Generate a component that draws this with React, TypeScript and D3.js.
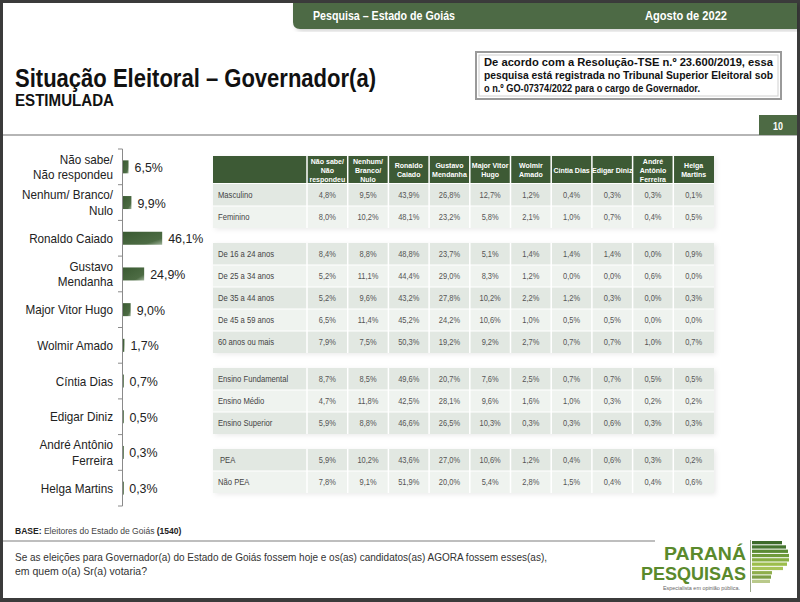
import React from "react";
import * as d3 from "d3";

// ---------- DATA ----------
const candidates = [
  "Não sabe/ Não respondeu",
  "Nenhum/ Branco/ Nulo",
  "Ronaldo Caiado",
  "Gustavo Mendanha",
  "Major Vitor Hugo",
  "Wolmir Amado",
  "Cíntia Dias",
  "Edigar Diniz",
  "André Antônio Ferreira",
  "Helga Martins",
];
const candidateLabelLines = [
  ["Não sabe/", "Não respondeu"],
  ["Nenhum/ Branco/", "Nulo"],
  ["Ronaldo Caiado"],
  ["Gustavo", "Mendanha"],
  ["Major Vitor Hugo"],
  ["Wolmir Amado"],
  ["Cíntia Dias"],
  ["Edigar Diniz"],
  ["André Antônio", "Ferreira"],
  ["Helga Martins"],
];
const totals = [6.5, 9.9, 46.1, 24.9, 9.0, 1.7, 0.7, 0.5, 0.3, 0.3];

const columnHeaderLines = [
  ["Não sabe/", "Não", "respondeu"],
  ["Nenhum/", "Branco/", "Nulo"],
  ["Ronaldo", "Caiado"],
  ["Gustavo", "Mendanha"],
  ["Major Vitor", "Hugo"],
  ["Wolmir", "Amado"],
  ["Cíntia Dias"],
  ["Edigar Diniz"],
  ["André", "Antônio", "Ferreira"],
  ["Helga", "Martins"],
];

const sexLabels = ["Masculino", "Feminino"];
const sexValues = [
  [4.8, 9.5, 43.9, 26.8, 12.7, 1.2, 0.4, 0.3, 0.3, 0.1],
  [8.0, 10.2, 48.1, 23.2, 5.8, 2.1, 1.0, 0.7, 0.4, 0.5],
];
const ageLabels = ["De 16 a 24 anos", "De 25 a 34 anos", "De 35 a 44 anos", "De 45 a 59 anos", "60 anos ou mais"];
const ageValues = [
  [8.4, 8.8, 48.8, 23.7, 5.1, 1.4, 1.4, 1.4, 0.0, 0.9],
  [5.2, 11.1, 44.4, 29.0, 8.3, 1.2, 0.0, 0.0, 0.6, 0.0],
  [5.2, 9.6, 43.2, 27.8, 10.2, 2.2, 1.2, 0.3, 0.0, 0.3],
  [6.5, 11.4, 45.2, 24.2, 10.6, 1.0, 0.5, 0.5, 0.0, 0.0],
  [7.9, 7.5, 50.3, 19.2, 9.2, 2.7, 0.7, 0.7, 1.0, 0.7],
];
const eduLabels = ["Ensino Fundamental", "Ensino Médio", "Ensino Superior"];
const eduValues = [
  [8.7, 8.5, 49.6, 20.7, 7.6, 2.5, 0.7, 0.7, 0.5, 0.5],
  [4.7, 11.8, 42.5, 28.1, 9.6, 1.6, 1.0, 0.3, 0.2, 0.2],
  [5.9, 8.8, 46.6, 26.5, 10.3, 0.3, 0.3, 0.6, 0.3, 0.3],
];
const peaLabels = ["PEA", "Não PEA"];
const peaValues = [
  [5.9, 10.2, 43.6, 27.0, 10.6, 1.2, 0.4, 0.6, 0.3, 0.2],
  [7.8, 9.1, 51.9, 20.0, 5.4, 2.8, 1.5, 0.4, 0.4, 0.6],
];

const headerLeft = "Pesquisa – Estado de Goiás";
const headerRight = "Agosto de 2022";
const titleText = "Situação Eleitoral – Governador(a)";
const subtitleText = "ESTIMULADA";
const noteLines = [
  "De acordo com a Resolução-TSE n.º 23.600/2019, essa",
  "pesquisa está registrada no Tribunal Superior Eleitoral sob",
  "o n.º GO-07374/2022 para o cargo de Governador.",
];
const pageNumber = "10";
const questionLines = [
  "Se as eleições para Governador(a) do Estado de Goiás fossem hoje e os(as) candidatos(as) AGORA fossem esses(as),",
  "em quem o(a) Sr(a) votaria?",
];

// ---------- LAYOUT ----------
const FONT = "'Liberation Sans', Arial, Helvetica, sans-serif";
const GREEN = "#4d6a44";
const HEAD_GREEN = "#3e5a36";

const fmt = (v: number) => d3.format(".1f")(v).replace(".", ",") + "%";

function T(props: any) {
  const { x, y, sx = 0.9, size = 12, weight = "normal", anchor = "start", fill = "#222", children } = props;
  return (
    <text
      transform={`translate(${x},${y}) scale(${sx},1)`}
      fontSize={size}
      fontWeight={weight}
      textAnchor={anchor}
      fill={fill}
      fontFamily={FONT}
    >
      {children}
    </text>
  );
}

function L(props: any) {
  const { x, y, len, size = 12, weight = "normal", anchor = "start", fill = "#222", adjust = "spacingAndGlyphs", children } = props;
  return (
    <text
      x={x}
      y={y}
      textLength={len}
      lengthAdjust={adjust}
      fontSize={size}
      fontWeight={weight}
      textAnchor={anchor}
      fill={fill}
      fontFamily={FONT}
    >
      {children}
    </text>
  );
}

export default function App() {
  // Bar chart scales
  const yBand = d3.scaleBand<string>().domain(candidates).range([149, 506]);
  const xBar = d3.scaleLinear().domain([0, 100]).range([123, 208]);

  // Table
  const groups = [
    { labels: sexLabels, values: sexValues },
    { labels: ageLabels, values: ageValues },
    { labels: eduLabels, values: eduValues },
    { labels: peaLabels, values: peaValues },
  ];
  const colIdx = d3.range(10).map(String);
  const xCol = d3.scaleBand<string>().domain(colIdx).range([307, 714]);
  const tableLeft = 213;
  const headTop = 156;
  const headBot = 183;
  const rowH = 22;
  const groupGap = 15;

  const rows: { label: string; values: number[]; y: number; dark: boolean; group: number }[] = [];
  let yCur = headBot + 1;
  groups.forEach((g, gi) => {
    g.labels.forEach((lab, i) => {
      rows.push({ label: lab, values: g.values[i], y: yCur, dark: i % 2 === 0, group: gi });
      yCur += rowH;
    });
    yCur += groupGap;
  });

  // logo stripes (decorative)
  const stripes = [
    { w: 30, c: "#3d6a2a" },
    { w: 34, c: "#467530" },
    { w: 36, c: "#5a8a34" },
    { w: 37, c: "#6e9a3a" },
    { w: 37, c: "#86ad42" },
    { w: 35, c: "#9cbd4b" },
    { w: 31, c: "#a7c458" },
    { w: 20, c: "#8fae4c" },
    { w: 19, c: "#7d9e45" },
    { w: 18, c: "#b9c98a" },
  ];

  return (
    <svg
      width={800}
      height={602}
      style={{ position: "absolute", left: 0, top: 0, display: "block" }}
      xmlns="http://www.w3.org/2000/svg"
    >
      <defs>
        <linearGradient id="barGrad" x1="0" x2="1" y1="0" y2="1">
          <stop offset="0" stopColor="#3a5a32" />
          <stop offset="0.75" stopColor="#4d6c44" />
          <stop offset="1" stopColor="#9fb39a" />
        </linearGradient>
        <filter id="shadow" x="-5%" y="-5%" width="110%" height="115%">
          <feDropShadow dx="2" dy="2" stdDeviation="2" floodColor="#000" floodOpacity="0.18" />
        </filter>
        <filter id="tshadow" x="-5%" y="-5%" width="110%" height="115%">
          <feDropShadow dx="2" dy="1.5" stdDeviation="2.5" floodColor="#000" floodOpacity="0.08" />
        </filter>
        <clipPath id="headClip">
          <rect x={tableLeft} y={headTop} width={501} height={headBot - headTop} />
        </clipPath>
      </defs>

      {/* frame */}
      <rect x={0} y={0} width={800} height={602} fill="#3b3b3b" />
      <rect x={3} y={3} width={794} height={595} fill="#ffffff" />

      {/* header bar */}
      <path d="M293,3 H797 V29 H300 Q293,29 293,22 Z" fill={GREEN} filter="url(#shadow)" />
      <L x={313} y={20} len={142} size={13} weight="bold" fill="#ffffff">{headerLeft}</L>
      <L x={645} y={20} len={82} size={13} weight="bold" fill="#ffffff">{headerRight}</L>

      {/* title */}
      <L x={15} y={87} len={361} size={25} weight="bold" fill="#111">{titleText}</L>
      <L x={15} y={106} len={99} size={17} weight="bold" fill="#111">{subtitleText}</L>

      {/* note box */}
      <rect x={476} y={52} width={305} height={47} fill="#ffffff" stroke="#9a9a9a" strokeWidth={2} />
      <rect x={479} y={55} width={299} height={41} fill="none" stroke="#d0d0d0" strokeWidth={1} />
      <L x={484} y={66} len={289} size={10.5} weight="bold" fill="#111">{noteLines[0]}</L>
      <L x={484} y={79} len={289} size={10.5} weight="bold" fill="#111">{noteLines[1]}</L>
      <L x={484} y={92} len={216} size={10.5} weight="bold" fill="#111">{noteLines[2]}</L>

      {/* separator line + page number */}
      <line x1={3} x2={797} y1={135} y2={135} stroke="#b5b5b5" strokeWidth={2} />
      <rect x={759} y={115} width={38} height={20} fill={GREEN} />
      <T x={778} y={129.5} size={10.5} weight="bold" anchor="middle" fill="#ffffff" sx={0.85}>{pageNumber}</T>

      {/* bar chart */}
      <g>
        <line x1={122.5} x2={122.5} y1={149} y2={506} stroke="#8a8a8a" strokeWidth={1} />
        {candidates.concat(["__end"]).map((c, i) => {
          const y = i < candidates.length ? (yBand(c) as number) : 506;
          return <line key={"t" + i} x1={118} x2={122.5} y1={y} y2={y} stroke="#8a8a8a" strokeWidth={1} />;
        })}
        {candidates.map((c, i) => {
          const cy = (yBand(c) as number) + yBand.bandwidth() / 2;
          const lines = candidateLabelLines[i];
          const w = Math.max(xBar(totals[i]) - xBar(0), 0.8);
          return (
            <g key={c}>
              {lines.map((ln, j) => (
                <T
                  key={j}
                  x={113}
                  y={cy + 4.5 + (j - (lines.length - 1) / 2) * 15.5}
                  size={13}
                  anchor="end"
                  fill="#222"
                >
                  {ln}
                </T>
              ))}
              <rect x={xBar(0)} y={cy - 6.5} width={w} height={13} fill="url(#barGrad)" />
              <T x={xBar(totals[i]) + 6} y={cy + 5} size={13.5} fill="#222" sx={0.92}>
                {fmt(totals[i])}
              </T>
            </g>
          );
        })}
      </g>

      {/* table */}
      <g filter="url(#tshadow)">
        <rect x={tableLeft} y={headTop} width={501} height={headBot - headTop} fill={HEAD_GREEN} />
        {rows.map((r, i) => (
          <rect
            key={"bg" + i}
            x={tableLeft}
            y={r.y}
            width={501}
            height={rowH}
            fill={r.dark ? "#e2e8e2" : "#eff3ef"}
          />
        ))}
      </g>
      {/* column separators */}
      {[0, 1, 2, 3].map((gi) => {
        const gr = rows.filter((r) => r.group === gi);
        const y0 = gr[0].y;
        const y1 = gr[gr.length - 1].y + rowH;
        return colIdx.map((k) => (
          <line key={"s" + gi + k} x1={xCol(k)} x2={xCol(k)} y1={y0} y2={y1} stroke="#ffffff" strokeWidth={1.5} />
        ));
      })}
      {colIdx.map((k) => (
        <line key={"hs" + k} x1={xCol(k)} x2={xCol(k)} y1={headTop} y2={headBot} stroke="#ffffff" strokeWidth={1.5} />
      ))}
      {rows.map((r, i) =>
        i > 0 && rows[i - 1].group === r.group ? (
          <line key={"rs" + i} x1={tableLeft} x2={714} y1={r.y} y2={r.y} stroke="#ffffff" strokeWidth={1.2} />
        ) : null
      )}
      <line x1={tableLeft} x2={714} y1={headBot + 0.5} y2={headBot + 0.5} stroke="#ffffff" strokeWidth={1} />

      {/* header text */}
      <g clipPath="url(#headClip)">
        {columnHeaderLines.map((lines, ci) => {
          const cx = (xCol(String(ci)) as number) + xCol.bandwidth() / 2;
          const n = lines.length;
          const mid = (headTop + headBot) / 2;
          return lines.map((ln, j) => (
            <T
              key={ci + "-" + j}
              x={cx}
              y={n === 3 ? headTop + 8 + j * 9 : mid + 3 + (j - (n - 1) / 2) * 9}
              size={8}
              weight="bold"
              anchor="middle"
              fill="#ffffff"
              sx={0.88}
            >
              {ln}
            </T>
          ));
        })}
      </g>

      {/* row texts */}
      {rows.map((r, i) => (
        <g key={"rt" + i}>
          <T x={r.label === "PEA" ? 220 : 218} y={r.y + rowH / 2 + 3} size={8.5} fill="#444" sx={0.9}>
            {r.label}
          </T>
          {r.values.map((v, k) => (
            <T
              key={k}
              x={(xCol(String(k)) as number) + xCol.bandwidth() / 2}
              y={r.y + rowH / 2 + 3}
              size={8.5}
              anchor="middle"
              fill="#555"
              sx={0.88}
            >
              {fmt(v)}
            </T>
          ))}
        </g>
      ))}

      {/* footer */}
      <text transform="translate(15,534) scale(0.9,1)" fontSize={9.5} fill="#222" fontFamily={FONT}>
        <tspan fontWeight="bold">BASE:</tspan>
        <tspan fill="#444"> Eleitores do Estado de Goiás </tspan>
        <tspan fontWeight="bold">(1540)</tspan>
      </text>
      <line x1={3} x2={655} y1={541} y2={541} stroke="#a8a8a8" strokeWidth={1.5} />
      <L x={15} y={561} len={532} size={11} fill="#333">{questionLines[0]}</L>
      <L x={15} y={575} len={132} size={11} fill="#333">{questionLines[1]}</L>

      {/* logo */}
      <L x={746} y={560} len={82} size={19} weight="bold" anchor="end" fill="#5a8a2c">PARANÁ</L>
      <L x={746} y={580} len={105} size={19} weight="bold" anchor="end" fill="#5a8a2c">PESQUISAS</L>
      <L x={663} y={590} len={77} size={4.5} fill="#666">Especialista em opinião pública.</L>
      <line x1={750.5} x2={750.5} y1={540} y2={592} stroke="#9aa88a" strokeWidth={1} />
      {stripes.map((s, i) => (
        <rect key={"st" + i} x={752} y={541 + i * 4.3} width={s.w} height={3.3} fill={s.c} />
      ))}
    </svg>
  );
}
